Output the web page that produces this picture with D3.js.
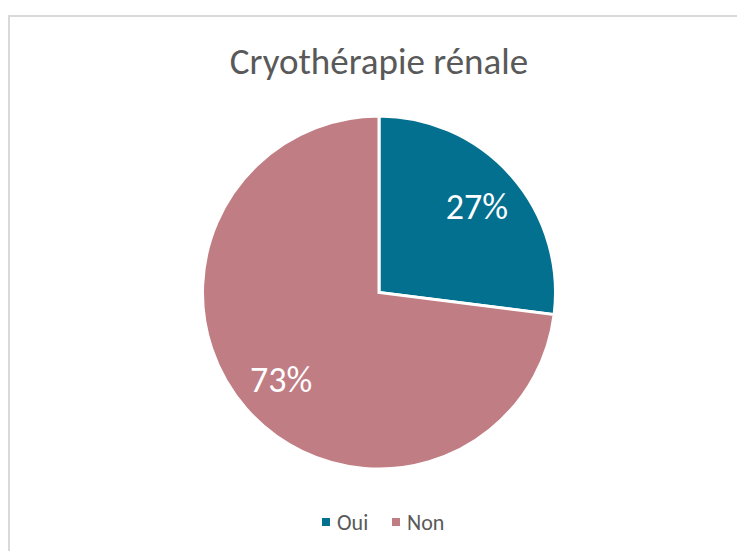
<!DOCTYPE html>
<html><head><meta charset="utf-8">
<script src="https://cdn.jsdelivr.net/npm/d3@7"></script>
<style>body{margin:0;background:#fff;} svg{display:block;}</style>
</head><body>
<svg id="c" width="737" height="551"></svg>
<script>
const categories = ["Oui", "Non"];
const values = [27, 73];
const colors = ["#03708F", "#C07D83"];
const title = "Cryothérapie rénale";

const svg = d3.select("#c");
const font = "Carlito, Lato, 'Open Sans', sans-serif";
svg.append("rect").attr("x", 9).attr("y", 16).attr("width", 740).attr("height", 560)
  .attr("fill", "#fff").attr("stroke", "#d9d9d9").attr("stroke-width", 2);

svg.append("text").attr("x", 379).attr("y", 74).attr("text-anchor", "middle")
  .attr("font-family", font).attr("font-size", 37).attr("fill", "#595959").text(title);

const cx = 379, cy = 292.5, r = 176.5;
const pie = d3.pie().sort(null).value(d => d.v);
const arcs = pie(categories.map((c, i) => ({c, v: values[i], col: colors[i]})));
const arc = d3.arc().innerRadius(0).outerRadius(r);
const labelArc = d3.arc().innerRadius(r * 0.74).outerRadius(r * 0.74);
const g = svg.append("g").attr("transform", `translate(${cx},${cy})`);
g.selectAll("path").data(arcs).join("path")
  .attr("d", arc).attr("fill", d => d.data.col).attr("stroke", "#fff").attr("stroke-width", 3);
const total = d3.sum(values);
g.selectAll("text").data(arcs).join("text")
  .attr("transform", d => `translate(${labelArc.centroid(d)})`)
  .attr("text-anchor", "middle").attr("dy", "0.36em")
  .attr("font-family", font).attr("font-size", 36).attr("fill", "#fff")
  .text(d => Math.round(d.data.v / total * 100) + "%");

const legend = svg.append("g").attr("font-family", font).attr("font-size", 22).attr("fill", "#595959");
const lx = [322, 392];
categories.forEach((c, i) => {
  legend.append("rect").attr("x", lx[i]).attr("y", 518).attr("width", 8).attr("height", 8).attr("fill", colors[i]);
  legend.append("text").attr("x", lx[i] + 15).attr("y", 530).text(c);
});
</script>
</body></html>
